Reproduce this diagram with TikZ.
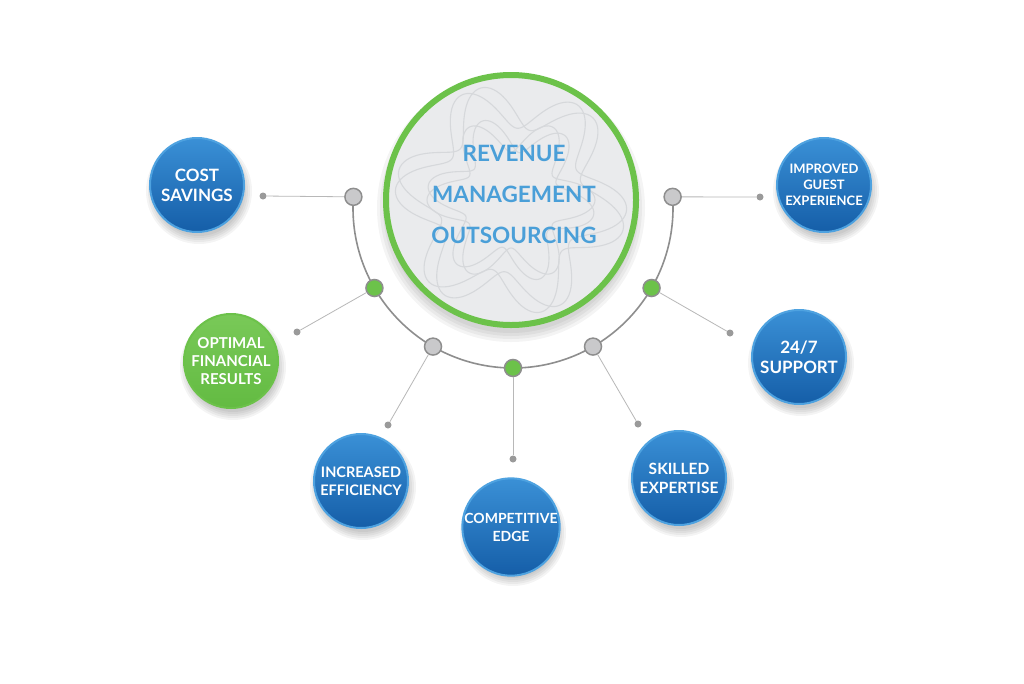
\documentclass[tikz,border=0pt]{standalone}
\usepackage{fontspec}
\setmainfont{Lato}
\definecolor{rmgreen}{HTML}{6CC24A}
\definecolor{rmgreenT}{HTML}{79C958}
\definecolor{rmgreenB}{HTML}{63BB42}
\definecolor{rmblueT}{HTML}{3A90D6}
\definecolor{rmblueB}{HTML}{155EA8}
\definecolor{rmrim}{HTML}{4EA2E0}
\definecolor{rmtext}{HTML}{4A9FD8}
\definecolor{rmgray}{HTML}{8E8E8E}
\definecolor{rmknob}{HTML}{C9C9CB}
\definecolor{rmline}{HTML}{B8B8B8}
\definecolor{rmdot}{HTML}{9A9A9A}
\definecolor{rmcore}{HTML}{EAEBED}
\definecolor{rmwave}{HTML}{D6D8DB}
\begin{document}
\begin{tikzpicture}[x=1pt,y=-1pt,
 ball/.style={circle, minimum size=94pt, inner sep=0pt, align=center, text=white,
   font=\bfseries\fontsize{15}{18}\selectfont, shade, top color=rmblueT, bottom color=rmblueB,
   draw=rmrim, line width=2pt},
 gball/.style={ball, top color=rmgreenT, bottom color=rmgreenB, draw=rmgreen},
 knob/.style={circle, minimum size=17pt, inner sep=0pt, fill=rmknob, draw=rmgray, line width=1.5pt},
 gknob/.style={knob, fill=rmgreen},
 tipdot/.style={circle, minimum size=7pt, inner sep=0pt, fill=rmdot},
 link/.style={rmline, line width=0.8pt},
 softshade/.style={fill=black, opacity=0.045},
 wave/.style={rmwave, line width=1.1pt}]
\fill[white] (0,0) rectangle (1024,683);
\useasboundingbox (0,0) rectangle (1024,683);

% soft shadows
\foreach \cx/\cy in {197/185, 231/361, 361/481, 511/527, 679/478, 799/357, 824/185}{
  \foreach \rr in {53,51,49,47,45}{\fill[softshade] (\cx+2,\cy+6) circle[radius=\rr];}
}
\foreach \rr in {134,131,128,125}{\fill[softshade] (511,208) circle[radius=\rr];}

% arc carrying the knobs
\draw[rmgray, line width=1.6pt] (513,208) ++(184:160) arc[start angle=184, end angle=-4, radius=160];

% central circle
\node[circle, minimum size=250pt, inner sep=0pt, fill=rmcore, draw=rmgreen, line width=6pt,
  path picture={
    \foreach \ph in {0,60}{
      \draw[wave] plot[domain=0:360, samples=241]
        ({(94+22*sin(6*\x+\ph))*cos(\x)},{(94+22*sin(6*\x+\ph))*sin(\x)});
    }
    \foreach \ph in {30,90}{
      \draw[wave] plot[domain=0:360, samples=241]
        ({(66+18*sin(6*\x+\ph))*cos(\x)},{(66+18*sin(6*\x+\ph))*sin(\x)});
    }
  }] (core) at (511,200) {};
\node[align=center, text=rmtext, font=\bfseries\fontsize{22.5}{41}\selectfont] (title) at (514,194)
  {REVENUE\\MANAGEMENT\\OUTSOURCING};

% knobs on the arc
\path (513,208) ++(184:160) node[knob] (k1) {};
\path (513,208) ++(150:160) node[gknob] (k2) {};
\path (513,208) ++(120:160) node[knob] (k3) {};
\path (513,208) ++(90:160) node[gknob] (k4) {};
\path (513,208) ++(60:160) node[knob] (k5) {};
\path (513,208) ++(30:160) node[gknob] (k6) {};
\path (513,208) ++(-4:160) node[knob] (k7) {};

% end dots
\node[tipdot] (d1) at (263,196) {};
\node[tipdot] (d2) at (297,332) {};
\node[tipdot] (d3) at (388,425) {};
\node[tipdot] (d4) at (513,459) {};
\node[tipdot] (d5) at (638,424) {};
\node[tipdot] (d6) at (730,333) {};
\node[tipdot] (d7) at (760,197) {};

\foreach \i in {1,...,7}{\draw[link] (k\i) -- (d\i);}

% outcome balls
\node[ball, font=\bfseries\fontsize{17}{20}\selectfont] (b1) at (197,185) {COST\\SAVINGS};
\node[gball, font=\bfseries\fontsize{15}{18}\selectfont] (b2) at (231,361) {OPTIMAL\\FINANCIAL\\RESULTS};
\node[ball, font=\bfseries\fontsize{14.5}{18}\selectfont] (b3) at (361,481) {INCREASED\\EFFICIENCY};
\node[ball, font=\bfseries\fontsize{14}{18}\selectfont] (b4) at (511,527) {COMPETITIVE\\EDGE};
\node[ball, font=\bfseries\fontsize{15.5}{19}\selectfont] (b5) at (679,478) {SKILLED\\EXPERTISE};
\node[ball, font=\bfseries\fontsize{17}{20}\selectfont] (b6) at (799,357) {24/7\\SUPPORT};
\node[ball, font=\bfseries\fontsize{13}{16}\selectfont] (b7) at (824,185) {IMPROVED\\GUEST\\EXPERIENCE};
\end{tikzpicture}
\end{document}
